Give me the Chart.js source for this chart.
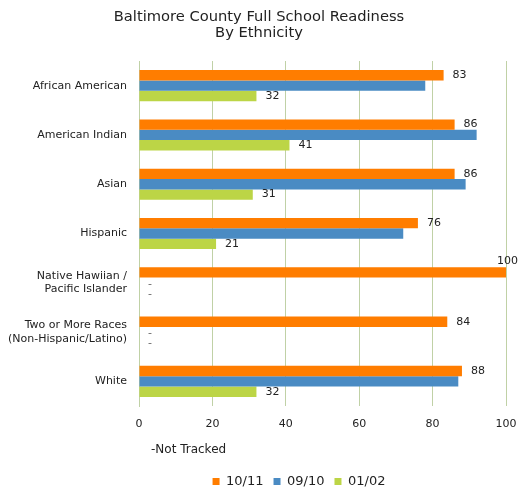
<!DOCTYPE html>
<html>
<head>
<meta charset="utf-8">
<script src="https://cdn.jsdelivr.net/npm/chart.js@4/dist/chart.umd.min.js"></script>
<style>
  html, body { margin: 0; padding: 0; background: #fff; }
  #wrap { width: 518px; height: 488px; }
</style>
</head>
<body>
<div id="wrap"><canvas id="chart"></canvas></div>
<script>
// data
const categories = [
  ["African American"],
  ["American Indian"],
  ["Asian"],
  ["Hispanic"],
  ["Native Hawiian /", "Pacific Islander"],
  ["Two or More Races", "(Non-Hispanic/Latino)"],
  ["White"]
];
const seriesNames = ["10/11", "09/10", "01/02"];
const values1011 = [83, 86, 86, 76, 100, 84, 88];
const values0910 = [78, 92, 89, 72, null, null, 87];
const values0102 = [32, 41, 31, 21, null, null, 32];
const xMin = 0;
const xMax = 100;
const xStep = 20;
const titleLines = ["Baltimore County Full School Readiness", "By Ethnicity"];
const footNote = "-Not Tracked";

const FONT = "'DejaVu Sans', Verdana, sans-serif";
const GRID = "#c0d1a6";
const TEXT = "#222";

// value labels next to bars, "-" for untracked values
const valueLabels = {
  id: "valueLabels",
  afterDatasetsDraw(chart) {
    const ctx = chart.ctx;
    const x0 = chart.scales.x.getPixelForValue(0);
    ctx.save();
    ctx.font = "11px " + FONT;
    ctx.textBaseline = "middle";
    ctx.textAlign = "left";
    chart.data.datasets.forEach((ds, i) => {
      const meta = chart.getDatasetMeta(i);
      meta.data.forEach((bar, j) => {
        const v = ds.data[j];
        if (v === null) {
          ctx.fillStyle = "#666";
          ctx.fillText("-", x0 + 9, bar.y + 1);
          return;
        }
        if (!ds.showValues) return;
        const txt = String(v);
        const w = ctx.measureText(txt).width;
        ctx.fillStyle = TEXT;
        if (bar.x + 9 + w > chart.width) {
          // no room on the right, put it above the bar end
          ctx.fillText(txt, bar.x - 9, bar.y - 11);
        } else {
          ctx.fillText(txt, bar.x + 9, bar.y);
        }
      });
    });
    ctx.restore();
  }
};

const footNotePlugin = {
  id: "footNote",
  afterLayout(chart) {
    // legend sits a bit right of the page centre in the original
    chart.legend.left += 40;
    chart.legend.right += 40;
  },
  afterDraw(chart) {
    const ctx = chart.ctx;
    const a = chart.chartArea;
    ctx.save();
    ctx.font = "12px " + FONT;
    ctx.fillStyle = TEXT;
    ctx.textBaseline = "middle";
    ctx.textAlign = "left";
    ctx.fillText(footNote, a.left + 12, a.bottom + 44);
    ctx.restore();
  }
};

new Chart(document.getElementById("chart"), {
  type: "bar",
  data: {
    labels: categories,
    datasets: [
      { label: seriesNames[0], data: values1011, backgroundColor: "#ff7d00", showValues: true },
      { label: seriesNames[1], data: values0910, backgroundColor: "#4a8bc3", showValues: false },
      { label: seriesNames[2], data: values0102, backgroundColor: "#bcd546", showValues: true }
    ]
  },
  options: {
    indexAxis: "y",
    responsive: true,
    maintainAspectRatio: false,
    animation: false,
    categoryPercentage: 0.63,
    barPercentage: 1,
    layout: { padding: { left: 0, right: 0, top: 0, bottom: -10 } },
    scales: {
      x: {
        min: xMin,
        max: xMax,
        ticks: { stepSize: xStep, color: TEXT, font: { family: FONT, size: 11 }, padding: 12 },
        grid: { color: GRID, drawTicks: false },
        border: { display: false },
        afterFit: (s) => {
          s.height = 59;
          s.paddingLeft = 0;
          s.paddingRight = 12;
        }
      },
      y: {
        ticks: { color: TEXT, font: { family: FONT, size: 11 }, padding: 12 },
        grid: { display: false, drawTicks: false },
        border: { color: GRID },
        afterFit: (s) => { s.width = 139; }
      }
    },
    plugins: {
      title: {
        display: true,
        text: titleLines,
        color: TEXT,
        font: { family: FONT, size: 14.7, weight: "normal", lineHeight: "16px" },
        padding: { top: 9, bottom: 20 }
      },
      legend: {
        position: "bottom",
        labels: {
          boxWidth: 7,
          boxHeight: 7,
          padding: 10,
          color: TEXT,
          font: { family: FONT, size: 13 }
        }
      },
      tooltip: { enabled: false }
    }
  },
  plugins: [valueLabels, footNotePlugin]
});
</script>
</body>
</html>
